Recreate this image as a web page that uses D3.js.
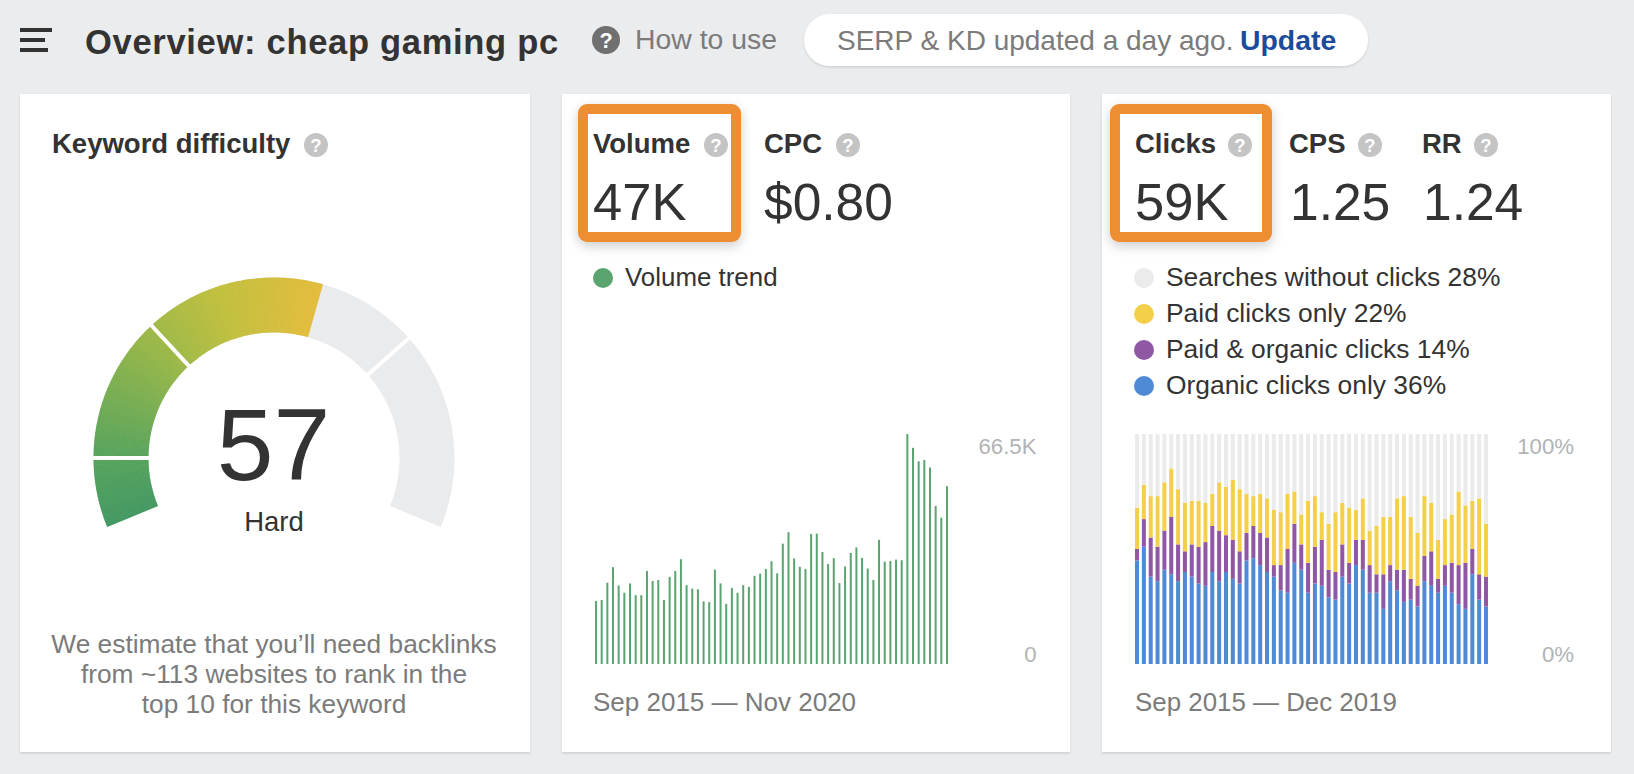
<!DOCTYPE html>
<html>
<head>
<meta charset="utf-8">
<title>Overview: cheap gaming pc</title>
<script src="https://cdn.jsdelivr.net/npm/d3@7"></script>
<style>
  body { margin: 0; background: #ebecee; }
  svg { display: block; }
  text { font-family: "Liberation Sans", Arial, sans-serif; }
</style>
</head>
<body>
<div id="page"></div>
<script>
// volume per month in thousands, Sep 2015 - Nov 2020
var volumeValues = [18.2, 18.5, 23.5, 28.0, 22.7, 20.6, 23.3, 19.9, 19.9, 26.9, 24.0, 24.3, 18.5, 25.2, 26.9, 30.3,
  22.8, 21.8, 21.6, 18.1, 17.9, 27.3, 23.3, 17.4, 22.0, 20.6, 22.8, 22.3, 25.5, 26.1, 27.5, 29.7,
  26.2, 34.8, 38.1, 30.5, 28.1, 27.5, 37.6, 37.7, 32.4, 28.9, 30.6, 23.4, 28.2, 32.1, 33.7, 30.7,
  27.6, 24.3, 35.9, 29.6, 29.8, 30.2, 30.0, 66.5, 62.5, 58.6, 59.0, 56.8, 45.7, 42.3, 51.4];

// click shares per month in percent, Sep 2015 - Dec 2019
var organicValues = [45, 51, 38, 36, 41, 39, 36, 40, 38, 35, 34, 40, 36, 40, 37, 35, 45, 46, 43, 40, 38, 32, 31, 44, 41, 31,
  35, 34, 29, 28, 38, 35, 43, 41, 31, 31, 24, 36, 32, 27, 28, 25, 36, 34, 31, 34, 31, 26, 24, 39, 28, 25];
var bothValues = [5, 12, 17, 15, 17, 25, 16, 9, 14, 16, 19, 20, 22, 16, 17, 14, 12, 14, 14, 15, 5, 11, 19, 17, 11, 13,
  16, 20, 12, 12, 14, 9, 11, 13, 12, 8, 15, 7, 9, 14, 9, 9, 11, 15, 6, 9, 13, 17, 20, 11, 11, 13];
var paidValues = [18, 15, 18, 22, 21, 21, 24, 21, 19, 20, 17, 14, 21, 21, 26, 27, 17, 13, 17, 17, 24, 23, 24, 14, 13, 27,
  22, 12, 20, 26, 18, 24, 13, 18, 15, 21, 25, 21, 31, 32, 27, 23, 26, 21, 17, 20, 21, 32, 25, 21, 33, 23];

var legendLabels = ["Searches without clicks 28%", "Paid clicks only 22%", "Paid & organic clicks 14%", "Organic clicks only 36%"];
var legendColors = ["#ebebeb", "#f4d04a", "#8f57a4", "#4f8ad6"];
var noteLines = ["We estimate that you\u2019ll need backlinks", "from ~113 websites to rank in the", "top 10 for this keyword"];

var difficulty = 57;
var gaugeSeparators = [10, 31, 71.5];
var gaugeStopValues = [0, 10, 31, 42, 57];
var gaugeStopColors = ["#459963", "#58a45e", "#a0ba48", "#c2c040", "#e4bd3e"];

var dark = "#333333", midGrey = "#7b7b7b", lightGrey = "#b3b3b3", iconGrey = "#c4c4c4", green = "#5aa56f";

var svg = d3.select("#page").append("svg")
  .attr("width", 1634)
  .attr("height", 774);

var defs = svg.append("defs");
var cardShadow = defs.append("filter").attr("id", "cardShadow");
cardShadow.append("feDropShadow").attr("dx", 0).attr("dy", 1.5).attr("stdDeviation", 1)
  .attr("flood-color", "#000").attr("flood-opacity", 0.12);
var boxShadow = defs.append("filter").attr("id", "boxShadow")
  .attr("x", "-20%").attr("y", "-20%").attr("width", "140%").attr("height", "140%");
boxShadow.append("feDropShadow").attr("dx", 0).attr("dy", 4).attr("stdDeviation", 6)
  .attr("flood-color", "#000").attr("flood-opacity", 0.2);

function label(x, y, str, size, fill, weight, anchor)
{
  return svg.append("text")
    .attr("x", x)
    .attr("y", y)
    .attr("font-size", size)
    .attr("fill", fill)
    .attr("font-weight", weight || "normal")
    .attr("text-anchor", anchor || "start")
    .text(str);
}

function helpIcon(x, y, r, fill)
{
  svg.append("circle").attr("cx", x).attr("cy", y).attr("r", r).attr("fill", fill);
  label(x, y + r * 0.58, "?", r * 1.55, "#fff", "bold", "middle");
}

function card(x0, x1)
{
  svg.append("rect")
    .attr("x", x0).attr("y", 94)
    .attr("width", x1 - x0).attr("height", 658)
    .attr("fill", "#fff")
    .attr("filter", "url(#cardShadow)");
}

function orangeBox(x0, x1)
{
  svg.append("rect")
    .attr("x", x0).attr("y", 104)
    .attr("width", x1 - x0).attr("height", 138)
    .attr("rx", 9)
    .attr("fill", "#ee8e33")
    .attr("filter", "url(#boxShadow)");
  svg.append("rect")
    .attr("x", x0 + 10).attr("y", 114)
    .attr("width", x1 - x0 - 20).attr("height", 118)
    .attr("fill", "#fff");
}

// header
[[28, 32], [38, 25], [48, 28]].forEach(function(d) {
  svg.append("rect").attr("x", 20).attr("y", d[0]).attr("width", d[1]).attr("height", 4).attr("fill", dark);
});
label(85, 54, "Overview: cheap gaming pc", 34.5, dark, "bold").attr("letter-spacing", 0.7);
helpIcon(606, 40, 14, "#707070");
label(635, 49, "How to use", 28.4, midGrey);

svg.append("rect")
  .attr("x", 804).attr("y", 14)
  .attr("width", 564).attr("height", 52)
  .attr("rx", 26)
  .attr("fill", "#fff")
  .attr("filter", "url(#cardShadow)");
label(837, 50, "SERP & KD updated a day ago.", 28, midGrey);
label(1240, 50, "Update", 28.4, "#1c4a9c", "bold");

card(20, 530);
card(562, 1070);
card(1102, 1611);

// keyword difficulty card
label(52, 153, "Keyword difficulty", 27.5, dark, "bold");
helpIcon(316, 145, 12, iconGrey);

var gaugeX = 274, gaugeY = 458, gaugeOuter = 180.5, gaugeInner = 125.5;
var angle = d3.scaleLinear().domain([0, 100]).range([-112.5, 112.5].map(function(d) { return d * Math.PI / 180; }));
var gaugeColor = d3.scaleLinear().domain(gaugeStopValues).range(gaugeStopColors);
var gaugeArc = d3.arc().innerRadius(gaugeInner).outerRadius(gaugeOuter);
var gauge = svg.append("g").attr("transform", "translate(" + gaugeX + "," + gaugeY + ")");

gauge.append("path")
  .attr("d", gaugeArc({ startAngle: angle(0), endAngle: angle(100) }))
  .attr("fill", "#eaebed");

gauge.selectAll(".slice")
  .data(d3.range(0, difficulty, 0.5))
  .enter().append("path")
  .attr("class", "slice")
  .attr("d", function(d) {
    return gaugeArc({ startAngle: angle(d), endAngle: angle(Math.min(d + 0.6, difficulty)) });
  })
  .attr("fill", function(d) { return gaugeColor(d + 0.25); });

gauge.selectAll(".sep")
  .data(gaugeSeparators)
  .enter().append("line")
  .attr("class", "sep")
  .attr("x1", function(d) { return Math.sin(angle(d)) * (gaugeInner - 2); })
  .attr("y1", function(d) { return -Math.cos(angle(d)) * (gaugeInner - 2); })
  .attr("x2", function(d) { return Math.sin(angle(d)) * (gaugeOuter + 2); })
  .attr("y2", function(d) { return -Math.cos(angle(d)) * (gaugeOuter + 2); })
  .attr("stroke", "#fff")
  .attr("stroke-width", 4);

label(gaugeX - 0.5, 480, difficulty, 102, dark, "normal", "middle");
label(gaugeX, 531, "Hard", 27.5, dark, "normal", "middle");

noteLines.forEach(function(d, i) {
  label(gaugeX, 653 + i * 30, d, 26.3, midGrey, "normal", "middle");
});

// volume card
orangeBox(578, 741);
label(593, 153, "Volume", 27.5, dark, "bold");
helpIcon(716, 145, 12, iconGrey);
label(764, 153, "CPC", 27.5, dark, "bold");
helpIcon(848, 145, 12, iconGrey);
label(593, 220, "47K", 52.5, dark);
label(764, 220, "$0.80", 51.5, dark);

svg.append("circle").attr("cx", 603).attr("cy", 278).attr("r", 10).attr("fill", green);
label(625, 286, "Volume trend", 25.9, dark);

var volumeMonths = d3.timeMonths(new Date(2015, 8, 1), new Date(2020, 11, 1));
var chartTop = 434, chartBottom = 664;

var volumeX = d3.scaleBand()
  .domain(volumeMonths)
  .range([593.2, 949.8])
  .paddingInner(0.647)
  .paddingOuter(0.3235);
var volumeY = d3.scaleLinear().domain([0, 66.5]).range([chartBottom, chartTop]);

svg.append("g").selectAll("rect")
  .data(volumeValues)
  .enter().append("rect")
  .attr("x", function(d, i) { return volumeX(volumeMonths[i]); })
  .attr("y", function(d) { return volumeY(d); })
  .attr("width", volumeX.bandwidth())
  .attr("height", function(d) { return chartBottom - volumeY(d); })
  .attr("fill", green);

function rightAxis(x, scale, ticks, format)
{
  var g = svg.append("g")
    .attr("transform", "translate(" + x + ",0)")
    .call(d3.axisRight(scale).tickValues(ticks).tickFormat(format).tickSize(0));
  g.select(".domain").remove();
  g.selectAll("text")
    .attr("x", 0)
    .attr("dy", function(d) { return d === 0 ? -2.5 : 19.5; })
    .attr("text-anchor", "end")
    .attr("fill", lightGrey)
    .attr("font-size", 22.2)
    .attr("font-family", "Liberation Sans, Arial, sans-serif");
}

rightAxis(1036.5, volumeY, [0, 66.5], function(d) { return d === 0 ? "0" : d + "K"; });
label(593, 711, "Sep 2015 \u2014 Nov 2020", 26, midGrey);

// clicks card
orangeBox(1110, 1272);
label(1135, 153, "Clicks", 27.5, dark, "bold");
helpIcon(1240, 145, 12, iconGrey);
label(1289, 153, "CPS", 27.5, dark, "bold");
helpIcon(1370, 145, 12, iconGrey);
label(1422, 153, "RR", 27.5, dark, "bold");
helpIcon(1486, 145, 12, iconGrey);
label(1135, 220, "59K", 52.5, dark);
label(1290, 220, "1.25", 51.5, dark);
label(1423, 220, "1.24", 51.5, dark);

legendLabels.forEach(function(d, i) {
  svg.append("circle").attr("cx", 1144).attr("cy", 278 + i * 36).attr("r", 10).attr("fill", legendColors[i]);
  label(1166, 286 + i * 36, d, 26.4, dark);
});

var clickMonths = d3.timeMonths(new Date(2015, 8, 1), new Date(2020, 0, 1));
var clickRows = clickMonths.map(function(m, i) {
  return {
    month: m,
    organic: organicValues[i],
    both: bothValues[i],
    paid: paidValues[i],
    none: 100 - organicValues[i] - bothValues[i] - paidValues[i]
  };
});
var clickKeys = ["organic", "both", "paid", "none"];
var clickColor = d3.scaleOrdinal().domain(clickKeys).range(legendColors.slice().reverse());

var clickX = d3.scaleBand()
  .domain(clickMonths)
  .range([1133.6, 1489.4])
  .paddingInner(0.415)
  .paddingOuter(0.2075);
var clickY = d3.scaleLinear().domain([0, 100]).range([chartBottom, chartTop]);

svg.append("g").selectAll("g")
  .data(d3.stack().keys(clickKeys)(clickRows))
  .enter().append("g")
  .attr("fill", function(s) { return clickColor(s.key); })
  .selectAll("rect")
  .data(function(s) { return s; })
  .enter().append("rect")
  .attr("x", function(d) { return clickX(d.data.month); })
  .attr("y", function(d) { return clickY(d[1]); })
  .attr("width", clickX.bandwidth())
  .attr("height", function(d) { return clickY(d[0]) - clickY(d[1]); });

rightAxis(1574, clickY, [0, 100], function(d) { return d + "%"; });
label(1135, 711, "Sep 2015 \u2014 Dec 2019", 25.9, midGrey);
</script>
</body>
</html>
